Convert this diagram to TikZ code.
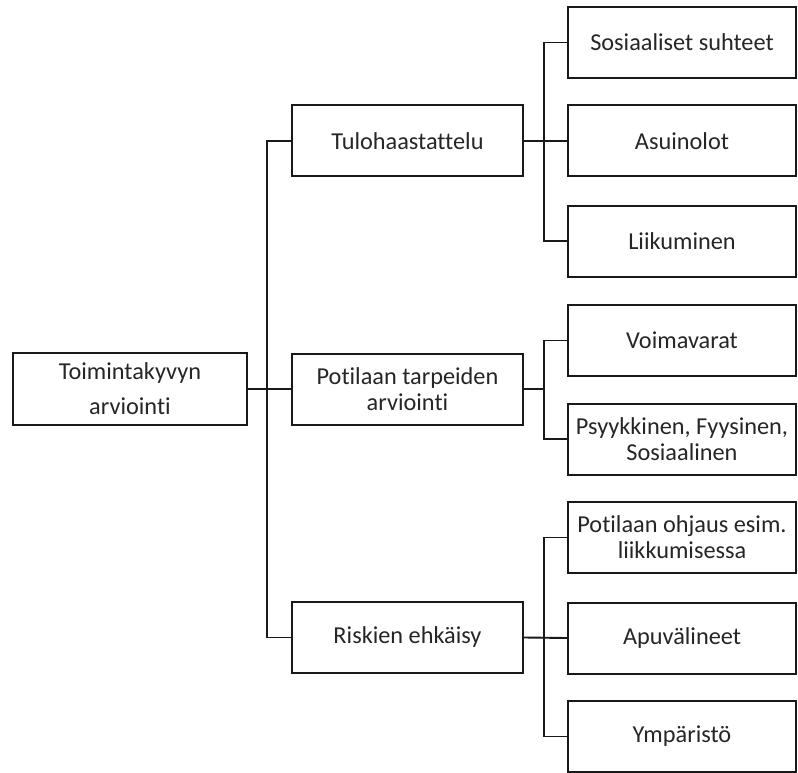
\documentclass[tikz,border=0pt]{standalone}
\usepackage{fontspec}
\setmainfont{Carlito}[Ligatures={NoCommon}]
\begin{document}
\begin{tikzpicture}[x=1pt,y=-1pt,
  box/.style={draw=black!90, line width=2pt, fill=white, align=center, inner sep=0pt,
    font=\fontsize{24.3}{26}\selectfont, text=black!85},
  mid/.style={box, minimum width=231pt, minimum height=71pt},
  leaf/.style={box, minimum width=228pt, minimum height=71pt},
  link/.style={draw=black!90, line width=1.9pt}]
\useasboundingbox (0,0) rectangle (798,773);
\node[box, minimum width=234pt, minimum height=72pt, font=\fontsize{24.3}{35}\selectfont] (root) at (130,389) {Toimintakyvyn\\arviointi};
\node[mid] (tulo) at (407.5,141) {Tulohaastattelu};
\node[mid] (pot) at (407.5,389) {Potilaan tarpeiden\\arviointi};
\node[mid] (risk) at (407.5,637.5) {Riskien ehkäisy};
\node[leaf] (sos) at (682,42.5) {Sosiaaliset suhteet};
\node[leaf] (asu) at (682,141) {Asuinolot};
\node[leaf] (liik) at (682,241) {Liikuminen};
\node[leaf] (voima) at (682,340.5) {Voimavarat};
\node[leaf] (psy) at (682,439) {Psyykkinen, Fyysinen,\\Sosiaalinen};
\node[leaf] (ohj) at (682,537.5) {Potilaan ohjaus esim.\\liikkumisessa};
\node[leaf] (apu) at (682,638) {Apuvälineet};
\node[leaf] (ymp) at (682,736.5) {Ympäristö};
\coordinate (s0) at (267,389);
\coordinate (s1) at (544,141);
\coordinate (s2) at (544,389);
\coordinate (s3) at (544,638);
\draw[link] (root.east) -- (pot.west);
\draw[link] (tulo.west) -| (s0) |- (risk.west);
\draw[link] (tulo.east) -- (asu.west);
\draw[link] (sos.west) -| (s1) |- (liik.west);
\draw[link] (pot.east) -- (s2);
\draw[link] (voima.west) -| (s2) |- (psy.west);
\draw[link] (risk.east) -- (apu.west);
\draw[link] (ohj.west) -| (s3) |- (ymp.west);
\end{tikzpicture}
\end{document}
